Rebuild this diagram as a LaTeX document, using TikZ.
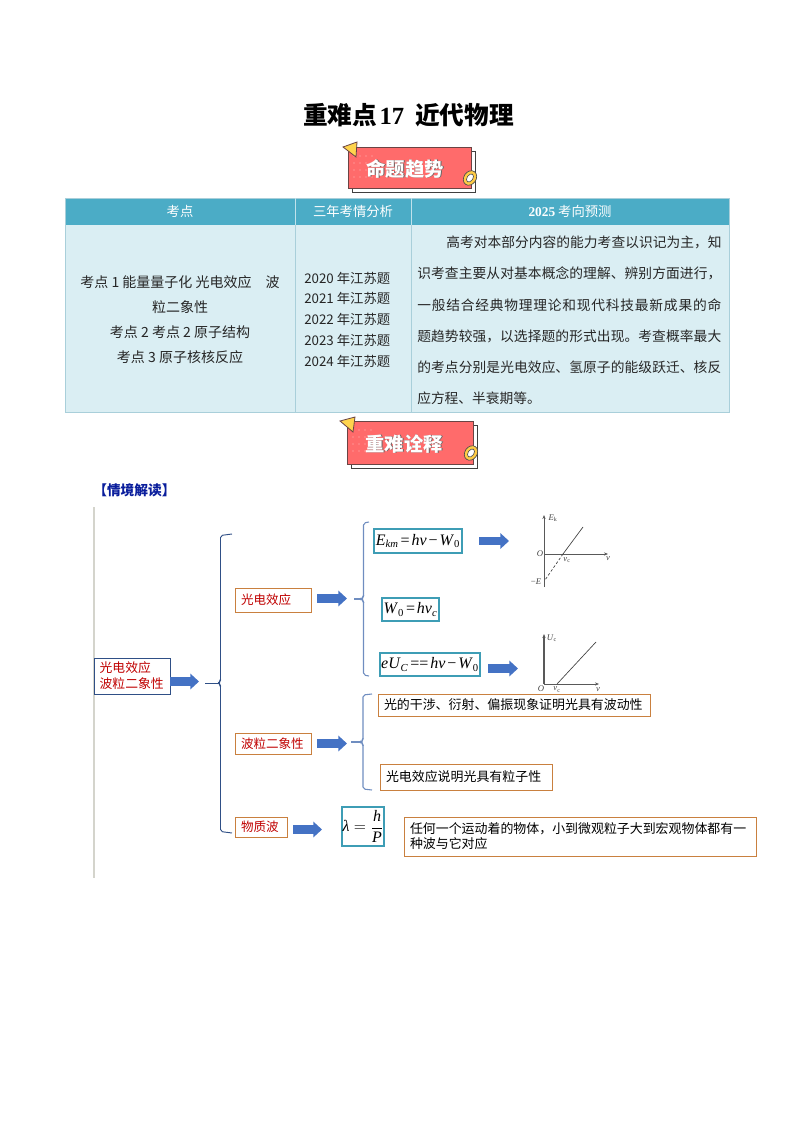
\documentclass[tikz,border=0pt]{standalone}
\usepackage{fontspec}
\setmainfont{Liberation Serif}
\newfontfamily\cjk{Noto Sans CJK SC}
\newfontfamily\latinserif{Liberation Serif}
\usetikzlibrary{arrows.meta}
\definecolor{hdr}{HTML}{4BACC6}
\definecolor{cellbg}{HTML}{DAEEF3}
\definecolor{cellline}{HTML}{A9CFDA}
\definecolor{badge}{HTML}{FF6B6B}
\definecolor{badgeline}{HTML}{6A4444}
\definecolor{tri}{HTML}{FFD44D}
\definecolor{ablue}{HTML}{4472C4}
\definecolor{bracea}{HTML}{2F4F86}
\definecolor{braceb}{HTML}{6F8DC0}
\definecolor{orangeb}{HTML}{C9803F}
\definecolor{tealb}{HTML}{3E9DB5}
\definecolor{redt}{HTML}{C00000}
\definecolor{navyt}{HTML}{0A1E9C}
\definecolor{barc}{HTML}{D4D4CC}
\newcommand\zh[1]{{\cjk #1}}
\newcommand\ii[1]{\textit{#1}}
\newcommand\sbi[1]{\textsubscript{\itshape #1}}
\newcommand\sbr[1]{\textsubscript{#1}}
\newcommand\opsp[1]{\hspace{0.12em}#1\hspace{0.12em}}
\newcommand\jline[2]{\parbox{#1pt}{\cjk\XeTeXlinebreaklocale "zh"\XeTeXlinebreakskip=0pt plus 2pt\parfillskip=0pt\relax\noindent #2}}
\tikzset{
 cell/.style={font=\fontsize{10}{12}\selectfont\cjk, inner sep=0pt, text=black!85},
 hcell/.style={font=\fontsize{10}{12}\selectfont\cjk, inner sep=0pt, text=white},
 para/.style={inner sep=0pt, anchor=west, font=\fontsize{10.3}{12}\selectfont, text=black!85},
 tbox/.style={draw=orangeb, line width=0.65pt, fill=white, inner ysep=0pt, inner xsep=4.5pt, align=left, font=\fontsize{9.7}{11.25}\selectfont\cjk},
 rbox/.style={tbox, text=redt, font=\fontsize{9.4}{11.25}\selectfont\cjk},
 fbox/.style={draw=tealb, line width=0.8pt, fill=white, inner sep=0pt, font=\fontsize{12}{14}\selectfont},
 bigarrow/.style={draw=ablue, line width=6.2pt, -{Triangle[length=6.5pt,width=11.5pt]}},
 axis/.style={draw=black!65, line width=0.6pt, -{Stealth[length=3pt,width=2.4pt]}},
 glabel/.style={font=\fontsize{6.5}{7}\selectfont, inner sep=0pt, text=black!75},
 badgetext/.style={font=\fontsize{14.5}{16}\selectfont\cjk\bfseries, text=white, inner sep=0pt},
}
\newcommand\badgetxt[1]{\makebox[0pt][l]{\raisebox{-0.6pt}{\hspace{0.6pt}\textcolor{black!60}{#1}}}#1}
\newcommand\drawbadge[5]{%
 \filldraw[fill=white, draw=black!75, line width=0.55pt] (#1+4,#2+4) rectangle (#3+4,#4+4);
 \filldraw[fill=badge, draw=badgeline, line width=0.6pt] (#1,#2) rectangle (#3,#4);
 \foreach \i in {0,1,2,3} \foreach \j in {0,1,2,3}
   \fill[white, opacity=0.55] (#1+6+\i*6,#2+9+\j*7) circle (0.55pt);
 \filldraw[fill=tri, draw=badgeline, line width=0.6pt] #5;
}
\newcommand\drawring[2]{%
 \filldraw[fill=tri!90!orange, draw=black!70, line width=0.5pt, rotate around={-35:(#1,#2)}] (#1,#2) ellipse (4.6pt and 5.8pt);
 \filldraw[fill=white, draw=black!70, line width=0.45pt, rotate around={-35:(#1,#2)}] (#1,#2) ellipse (2.2pt and 3.4pt);
}
\begin{document}
\begin{tikzpicture}[x=0.75pt,y=-0.75pt]
\useasboundingbox (0,0) rectangle (794,1123);

% title
\node[inner sep=0pt, font=\fontsize{18.5}{22}\selectfont\bfseries] (title) at (408.5,115) {\zh{重难点}\hspace{0.1em}17\hspace{0.45em}\zh{近代物理}};

% first badge
\drawbadge{348}{147}{471}{188}{(343,147) -- (357,142) -- (356,157) -- cycle}
\node[badgetext] (b1) at (405,169) {\badgetxt{命题趋势}};
\drawring{470}{178}

% table
\fill[hdr] (65,198) rectangle (729,225);
\fill[cellbg] (65,225) rectangle (729,412);
\draw[cellline, line width=0.7pt] (65,198) rectangle (729,412);
\draw[cellline, line width=0.7pt] (295,225) -- (295,412) (411,225) -- (411,412);
\draw[white!65!hdr, line width=0.6pt] (295,198) -- (295,225) (411,198) -- (411,225);
\node[hcell] (h1) at (180,211.5) {考点};
\node[hcell] (h2) at (353,211.5) {三年考情分析};
\node[hcell] (h3) at (570,211.5) {{\latinserif\bfseries 2025} 考向预测};

\node[cell, font=\fontsize{10.5}{12}\selectfont\cjk] (l1) at (180,282) {考点 1 能量量子化 光电效应\quad 波};
\node[cell, font=\fontsize{10.5}{12}\selectfont\cjk] (l2) at (180,307) {粒二象性};
\node[cell, font=\fontsize{10.5}{12}\selectfont\cjk] (l3) at (180,332) {考点 2 考点 2 原子结构};
\node[cell, font=\fontsize{10.5}{12}\selectfont\cjk] (l4) at (180,357) {考点 3 原子核核反应};

\node[cell, anchor=west] (y1) at (304,278) {2020 年江苏题};
\node[cell, anchor=west] (y2) at (304,298.5) {2021 年江苏题};
\node[cell, anchor=west] (y3) at (304,319) {2022 年江苏题};
\node[cell, anchor=west] (y4) at (304,340) {2023 年江苏题};
\node[cell, anchor=west] (y5) at (304,361) {2024 年江苏题};

\node[para] (r1) at (446,242) {\jline{206.5}{高考对本部分内容的能力考查以识记为主，知}};
\node[para] (r2) at (417,273) {\jline{228}{识考查主要从对基本概念的理解、辨别方面进行，}};
\node[para] (r3) at (417,305) {\jline{228}{一般结合经典物理理论和现代科技最新成果的命}};
\node[para] (r4) at (417,336) {\jline{228}{题趋势较强，以选择题的形式出现。考查概率最大}};
\node[para] (r5) at (417,367) {\jline{228}{的考点分别是光电效应、氢原子的能级跃迁、核反}};
\node[para] (r6) at (417,398) {\cjk 应方程、半衰期等。};

% second badge
\drawbadge{347}{421}{473}{464}{(340,421) -- (355,417) -- (353,432) -- cycle}
\node[badgetext] (b2) at (404,444) {\badgetxt{重难诠释}};
\drawring{471}{453}

% section heading
\node[inner sep=0pt, anchor=west, text=navyt, font=\fontsize{10.3}{12}\selectfont\cjk\bfseries] (sec) at (93,490) {【情境解读】};

% gray bar
\draw[barc, line width=1.6pt] (94,507) -- (94,878);

% braces
\draw[bracea, line width=0.7pt, rounded corners=1.5pt] (232,534) -- (220.5,535.5) -- (220.5,681) -- (218.5,683) -- (220.5,685) -- (220.5,831.5) -- (232,833);
\draw[bracea, line width=0.7pt] (205,683) -- (218.5,683);
\draw[braceb, line width=0.8pt, rounded corners=1.5pt] (369,522) -- (363.5,523) -- (363.5,597) -- (361.5,599) -- (363.5,601) -- (363.5,675) -- (369,676);
\draw[braceb, line width=0.8pt] (354,599) -- (361.5,599);
\draw[braceb, line width=0.8pt, rounded corners=1.5pt] (372,694) -- (363,695) -- (363,740) -- (361,742) -- (363,744) -- (363,789) -- (372,790);
\draw[braceb, line width=0.8pt] (351,742) -- (361,742);

% left boxes
\node[rbox, draw=bracea, text width=48.5pt, inner xsep=4.25pt, minimum height=27pt, line width=0.65pt, font=\fontsize{9.6}{12.5}\selectfont\cjk] (main) at (132,676) {光电效应\\[-0.5pt]波粒二象性};
\node[rbox, text width=48pt, minimum height=18pt] (pe) at (273,600) {光电效应};
\node[rbox, text width=48pt, minimum height=15.75pt] (wp) at (273,743.5) {波粒二象性};
\node[rbox, text width=30pt, minimum height=15pt] (mw) at (261,827) {物质波};

% formula boxes
\node[fbox, minimum width=66pt, minimum height=18pt] (f1) at (418,541) {\ii{E}\sbi{km}\opsp{=}\ii{hν}\opsp{−}\ii{W}\sbr{0}};
\node[fbox, minimum width=42.75pt, minimum height=17.25pt] (f2) at (410.5,609.5) {\ii{W}\sbr{0}\opsp{=}\ii{hν}\sbi{c}};
\node[fbox, minimum width=75pt, minimum height=17.25pt] (f3) at (430,664.5) {\ii{eU}\sbi{C}\opsp{==}\ii{hν}\opsp{−}\ii{W}\sbr{0}};
\node[fbox, minimum width=31.5pt, minimum height=29.25pt] (f4) at (363,826.5) {$\hbox{\itshape λ}=\displaystyle\frac{\hbox{\itshape h}}{\hbox{\itshape P}}$};

% right text boxes
\node[tbox, text width=195pt, minimum height=16.5pt] (t1) at (514,705) {光的干涉、衍射、偏振现象证明光具有波动性};
\node[tbox, text width=120pt, minimum height=19.5pt] (t2) at (466,777) {光电效应说明光具有粒子性};
\node[tbox, text width=255pt, minimum height=29.25pt] (t3) at (580,836.5) {任何一个运动着的物体，小到微观粒子大到宏观物体都有一\\种波与它对应};

% block arrows
\coordinate (a0s) at (main.east |- 0,681.5); \coordinate (a0e) at (199,681.5);
\coordinate (a1s) at (317,598.5); \coordinate (a1e) at (347,598.5);
\coordinate (a2s) at (317,743.5); \coordinate (a2e) at (347,743.5);
\coordinate (a3s) at (293,829.5); \coordinate (a3e) at (322,829.5);
\coordinate (a4s) at (479,541); \coordinate (a4e) at (509,541);
\coordinate (a5s) at (488,668.5); \coordinate (a5e) at (518,668.5);
\draw[bigarrow] (a0s) -- (a0e);
\draw[bigarrow] (a1s) -- (a1e);
\draw[bigarrow] (a2s) -- (a2e);
\draw[bigarrow] (a3s) -- (a3e);
\draw[bigarrow] (a4s) -- (a4e);
\draw[bigarrow] (a5s) -- (a5e);

% graph 1
\draw[axis] (544,587) -- (544,515);
\draw[axis] (544,554) -- (608,554);
\draw[black!75, line width=0.5pt] (583,527) -- (563,554);
\draw[black!75, line width=0.5pt, dash pattern=on 2pt off 1.5pt] (563,554) -- (545,580);
\node[glabel] (g1a) at (553,518) {\ii{E}\sbr{k}};
\node[glabel] (g1b) at (540,554) {\ii{O}};
\node[glabel] (g1c) at (536,582) {−\ii{E}};
\node[glabel] (g1d) at (567,560) {\ii{ν}\sbr{c}};
\node[glabel] (g1e) at (608,558.5) {\ii{ν}};

% graph 2
\draw[axis, line width=0.9pt] (544,684) -- (544,634);
\draw[axis] (544,684) -- (599,684);
\draw[black!75, line width=0.5pt] (557,684) -- (596,642);
\node[glabel] (g2a) at (552,638) {\ii{U}\sbr{c}};
\node[glabel] (g2b) at (541,688.5) {\ii{O}};
\node[glabel] (g2c) at (557,689.5) {\ii{ν}\sbr{c}};
\node[glabel] (g2d) at (598,689.5) {\ii{ν}};
\end{tikzpicture}
\end{document}
